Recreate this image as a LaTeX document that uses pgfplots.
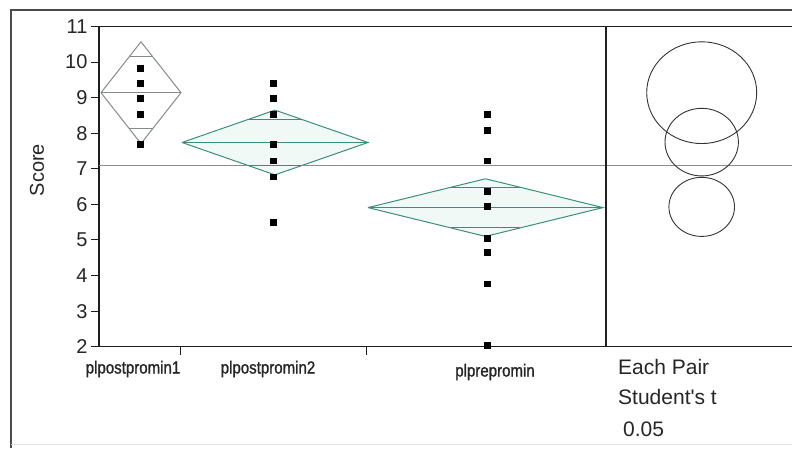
\documentclass[border=0pt]{standalone}
\usepackage{pgfplots}
\pgfplotsset{compat=1.18}
\usepackage{fontspec}
\setmainfont{Liberation Sans}
\newfontfamily\catfont[FakeStretch=0.86, FakeBold=1.2]{Liberation Sans}
\definecolor{diagray}{HTML}{858C88}
\definecolor{diateal}{HTML}{3A8F7B}
\definecolor{diafill}{HTML}{F1F9F6}
\definecolor{framegray}{HTML}{4A4A4A}
\definecolor{meangray}{HTML}{8C8C8C}
\definecolor{axisdark}{HTML}{1E1E1E}

\begin{document}
\begin{tikzpicture}[x=1pt,y=1pt]
\useasboundingbox (0,0) rectangle (792,448);
\fill[white] (0,0) rectangle (792,448);
% report frame
\draw[framegray, line width=1.8pt] (11,0) -- (11,438) -- (800,438);
\draw[black!12, line width=1pt] (11,4) -- (800,4);
\begin{axis}[
  at={(99pt,101.3pt)}, anchor=south west,
  scale only axis, width=701pt, height=320.2pt,
  xmin=99, xmax=800, ymin=2, ymax=11,
  axis line style={line width=1.2pt, axisdark},
  ytick={2,3,...,11}, ytick pos=left,
  xtick={180,366}, xticklabels={}, xtick pos=bottom,
  tick align=outside, major tick length=8pt,
  tick style={line width=1pt, axisdark},
  /pgf/number format/assume math mode=true,
  yticklabel style={font=\fontsize{20}{22}\selectfont, text=black!85},
]
% grand mean
\addplot[meangray, line width=1pt] coordinates {(99,7.08) (800,7.08)};

% means diamonds
\addplot[diagray, line width=1pt] coordinates {(101,9.14) (141,10.57) (181,9.14) (141,7.71) (101,9.14)};
\addplot[diateal, line width=1pt, fill=diafill] coordinates {(182,7.74) (275,8.65) (368,7.74) (275,6.83) (182,7.74)};
\addplot[diateal, line width=1pt, fill=diafill] coordinates {(368,5.91) (485.5,6.72) (603,5.91) (485.5,5.10) (368,5.91)};
\addplot[meangray, line width=1pt] coordinates {(99,7.08) (800,7.08)};

% group means
\addplot[diagray, line width=1pt] coordinates {(101,9.14) (181,9.14)};
\addplot[diateal, line width=1pt] coordinates {(182,7.74) (368,7.74)};
\addplot[diateal, line width=1pt] coordinates {(368,5.91) (603,5.91)};

% overlap marks
\addplot[diagray, line width=1pt] coordinates {(129.3,10.15) (152.7,10.15)};
\addplot[diagray, line width=1pt] coordinates {(129.3,8.13) (152.7,8.13)};
\addplot[diateal, line width=1pt] coordinates {(247.8,8.38) (302.2,8.38)};
\addplot[diateal, line width=1pt] coordinates {(247.8,7.10) (302.2,7.10)};
\addplot[diateal, line width=1pt] coordinates {(451.1,6.48) (519.9,6.48)};
\addplot[diateal, line width=1pt] coordinates {(451.1,5.34) (519.9,5.34)};

% observations
\addplot[only marks, mark=square*, mark size=2.9pt, black] coordinates {
  (140,9.83) (140,9.40) (140,8.98) (140,8.53) (140,7.69)};
\addplot[only marks, mark=square*, mark size=2.9pt, black] coordinates {
  (273.5,9.40) (273.5,8.98) (273.5,8.53) (273.5,7.70) (273.5,7.23) (273.5,6.78) (273.5,5.51)};
\addplot[only marks, mark=square*, mark size=2.9pt, black] coordinates {
  (487,8.54) (487,8.09) (487,7.23) (487,6.38) (487,5.94) (487,5.05) (487,4.65) (487,3.77) (487,2.05)};

% comparison circles
\draw[black!80, line width=0.9pt] (axis cs:701.7,9.14) ellipse [x radius=55, y radius=1.43];
\draw[black!80, line width=0.9pt] (axis cs:701.7,7.75) ellipse [x radius=36.7, y radius=0.95];
\draw[black!80, line width=0.9pt] (axis cs:701.7,5.93) ellipse [x radius=32.8, y radius=0.83];

% panel divider
\draw[axisdark, line width=1.2pt] (axis cs:606,2) -- (axis cs:606,11);
\end{axis}

\node[rotate=90, font=\fontsize{20}{22}\selectfont, text=black!85] at (37,278) {Score};
\begin{scope}[font=\catfont\fontsize{17.5}{19}\selectfont, text=black!85]
\node at (133,79) {plpostpromin1};
\node at (268,79) {plpostpromin2};
\node at (495,76) {plprepromin};
\end{scope}
\begin{scope}[font=\fontsize{21}{23}\selectfont, text=black!85]
\node[anchor=west, inner sep=0pt] at (618,81) {Each Pair};
\node[anchor=west, inner sep=0pt] at (618,51) {Student\textquotesingle s t};
\node[anchor=west, inner sep=0pt] at (623,19) {0.05};
\end{scope}
\end{tikzpicture}
\end{document}
